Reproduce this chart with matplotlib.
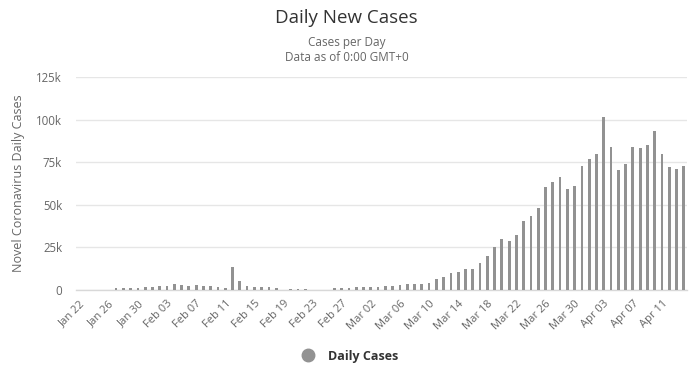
import datetime as dt

import matplotlib
matplotlib.use("Agg")
import matplotlib.pyplot as plt
from matplotlib.lines import Line2D
from matplotlib.ticker import FuncFormatter, MultipleLocator


START_DATE = dt.date(2020, 1, 22)

# daily new cases, in thousands, Jan 22 .. Apr 14
DAILY_CASES_K = [
    0, 0, 0, 0, 0,
    1.3, 1.2, 1.2, 1.3, 1.7,                               # Jan 27-31
    1.7, 2.2, 2.2, 3.5, 2.9, 2.5, 2.9, 2.3, 2.3, 1.9, 1.2,  # Feb 01-11
    13.5, 5.0, 2.5, 1.8, 1.8, 1.6, 1.2, 0.2, 0.7, 0.7,      # Feb 12-21
    0.7, 0.2, 0.2, 0.2, 0.9, 1.0, 1.3, 1.5,                 # Feb 22-29
    1.5, 1.6, 2.0, 2.1, 2.5, 3.0, 3.7, 3.7, 3.7, 4.3,       # Mar 01-10
    6.7, 7.8, 10.2, 10.8, 12.6, 12.6, 15.7, 20.2, 25.5, 30.1,  # Mar 11-20
    29.0, 32.1, 40.8, 43.2, 47.9, 60.3, 63.7, 66.2, 59.6, 61.4, 73.1,  # Mar 21-31
    76.7, 79.7, 101.4, 84.2, 70.8, 73.8, 84.2, 83.7, 85.0, 93.7,  # Apr 01-10
    80.2, 72.1, 70.9, 73.1,                                 # Apr 11-14
]

TITLE = "Daily New Cases"
SUBTITLE = "Cases per Day\nData as of 0:00 GMT+0"
Y_LABEL = "Novel Coronavirus Daily Cases"
SERIES_NAME = "Daily Cases"

BAR_COLOR = "#929292"
TEXT_COLOR = "#666666"
GRID_COLOR = "#e6e6e6"


def main() -> None:
    plt.rcParams["font.family"] = ["Open Sans", "DejaVu Sans"]

    values = [v * 1000 for v in DAILY_CASES_K]
    dates = [START_DATE + dt.timedelta(days=i) for i in range(len(values))]
    positions = list(range(len(values)))

    fig = plt.figure(figsize=(6.93, 3.78), dpi=100)
    ax = fig.add_axes([0.1097, 0.2328, 0.8823, 0.5627])

    ax.bar(positions, values, width=0.38, color=BAR_COLOR, zorder=3)

    ax.set_xlim(-0.5, len(values) - 0.5)
    ax.set_ylim(0, 125000)
    ax.yaxis.set_major_locator(MultipleLocator(25000))
    ax.yaxis.set_major_formatter(
        FuncFormatter(lambda v, _: "0" if v == 0 else f"{int(v / 1000)}k")
    )
    ax.grid(axis="y", color=GRID_COLOR, linewidth=1.0, zorder=0)
    ax.set_axisbelow(True)

    tick_idx = positions[::4]
    ax.set_xticks(tick_idx)
    ax.set_xticklabels(
        [dates[i].strftime("%b %d") for i in tick_idx],
        rotation=45,
        ha="right",
        rotation_mode="anchor",
    )
    ax.tick_params(axis="x", length=0, pad=6, labelsize=8, labelcolor=TEXT_COLOR)
    ax.tick_params(axis="y", length=0, pad=10, labelsize=8.3, labelcolor=TEXT_COLOR)

    for side in ("top", "right", "left"):
        ax.spines[side].set_visible(False)
    ax.spines["bottom"].set_color("#d8d8d8")
    ax.spines["bottom"].set_linewidth(1.0)

    ax.set_ylabel(Y_LABEL, fontsize=9, color=TEXT_COLOR, labelpad=8)

    fig.text(0.5, 0.975, TITLE, ha="center", va="top", fontsize=13.5, color="#333333")
    fig.text(0.5, 0.905, SUBTITLE, ha="center", va="top", fontsize=8.5,
             color=TEXT_COLOR, linespacing=1.25)

    handle = Line2D([], [], marker="o", linestyle="none", markersize=9,
                    markerfacecolor=BAR_COLOR, markeredgecolor=BAR_COLOR)
    legend = fig.legend(
        [handle], [SERIES_NAME],
        loc="center", bbox_to_anchor=(0.5, 0.058),
        frameon=False, handletextpad=0.6, prop={"weight": "bold", "size": 9},
    )
    for text in legend.get_texts():
        text.set_color("#333333")

    fig.savefig("out.png", dpi=100)
    plt.close(fig)


if __name__ == "__main__":
    main()
